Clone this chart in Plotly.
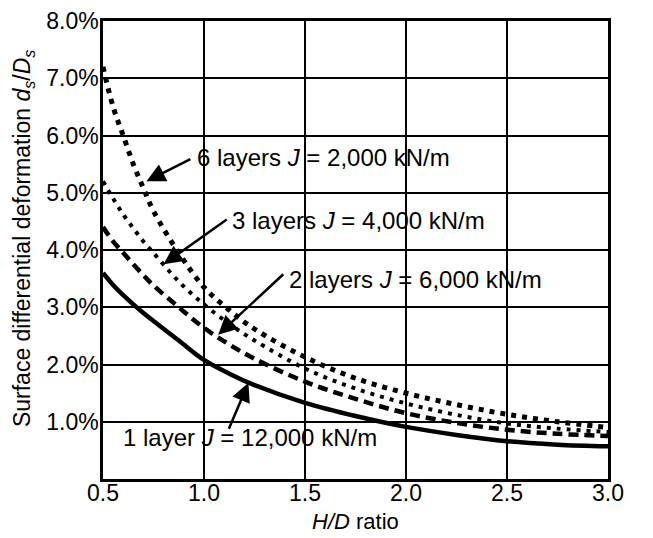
import plotly.graph_objects as go

# H/D ratio sample points
hd = [0.5, 0.55, 0.6, 0.65, 0.7, 0.75, 0.875, 1.0, 1.125, 1.25, 1.5, 1.75, 2.0, 2.25, 2.5, 2.75, 3.0]

# surface differential deformation (%)
layer6_j2000 = [7.2, 6.5, 6.0, 5.5, 5.08, 4.68, 3.95, 3.35, 2.95, 2.62, 2.13, 1.76, 1.5, 1.3, 1.13, 1.0, 0.9]
layer3_j4000 = [5.2, 4.9, 4.62, 4.38, 4.15, 3.95, 3.45, 3.05, 2.71, 2.42, 1.93, 1.58, 1.32, 1.12, 0.97, 0.88, 0.82]
layer2_j6000 = [4.4, 4.15, 3.95, 3.75, 3.56, 3.38, 3.0, 2.64, 2.35, 2.1, 1.7, 1.4, 1.15, 0.98, 0.86, 0.79, 0.75]
layer1_j12000 = [3.6, 3.39, 3.21, 3.05, 2.9, 2.76, 2.42, 2.08, 1.84, 1.64, 1.33, 1.1, 0.91, 0.77, 0.66, 0.6, 0.57]

y_tickvals = [1, 2, 3, 4, 5, 6, 7, 8]
y_ticktext = ["1.0%", "2.0%", "3.0%", "4.0%", "5.0%", "6.0%", "7.0%", "8.0%"]
x_tickvals = [0.5, 1.0, 1.5, 2.0, 2.5, 3.0]
x_ticktext = ["0.5", "1.0", "1.5", "2.0", "2.5", "3.0"]

FONT = "Liberation Sans, Arial, Helvetica, sans-serif"

fig = go.Figure()
fig.add_trace(go.Scatter(x=hd, y=layer6_j2000, mode="lines", line=dict(color="black", width=5, dash="5px,6px", shape="spline"), showlegend=False))
fig.add_trace(go.Scatter(x=hd, y=layer3_j4000, mode="lines", line=dict(color="black", width=4, dash="4px,6px", shape="spline"), showlegend=False))
fig.add_trace(go.Scatter(x=hd, y=layer2_j6000, mode="lines", line=dict(color="black", width=4.5, dash="10px,6px", shape="spline"), showlegend=False))
fig.add_trace(go.Scatter(x=hd, y=layer1_j12000, mode="lines", line=dict(color="black", width=4.5, shape="spline"), showlegend=False))

labels = [
    # text, text x, text y, arrow tail x, tail y, tip x, tip y
    ("6 layers <i>J</i> = 2,000 kN/m", 0.955, 5.62, 0.94, 5.6, 0.715, 5.2),
    ("3 layers <i>J</i> = 4,000 kN/m", 1.13, 4.52, 1.12, 4.55, 0.8, 3.75),
    ("2 layers <i>J</i> = 6,000 kN/m", 1.41, 3.48, 1.4, 3.6, 1.07, 2.52),
    ("1 layer <i>J</i> = 12,000 kN/m", 0.59, 0.72, 1.12, 0.85, 1.22, 1.68),
]
for txt, tx, ty, axx, ayy, px, py in labels:
    fig.add_annotation(x=px, y=py, ax=axx, ay=ayy, axref="x", ayref="y", xref="x", yref="y",
                       text="", showarrow=True, arrowhead=2, arrowsize=1.5, arrowwidth=2.5,
                       arrowcolor="black", standoff=0, startstandoff=0)
    fig.add_annotation(x=tx, y=ty, xref="x", yref="y", text=txt, showarrow=False,
                       xanchor="left", yanchor="middle", font=dict(family=FONT, size=24, color="black"),
                       bgcolor="rgba(255,255,255,0)")

# axis titles placed as annotations for exact positioning
fig.add_annotation(x=0, y=0.526, xref="paper", yref="paper", xanchor="center", yanchor="middle",
                   xshift=-80, textangle=-90, showarrow=False,
                   text="Surface differential deformation <i>d<sub>s</sub></i>/<i>D<sub>s</sub></i>",
                   font=dict(family=FONT, size=23, color="black"))
fig.add_annotation(x=0.5, y=0, xref="paper", yref="paper", xanchor="center", yanchor="middle",
                   yshift=-42, showarrow=False, text="<i>H/D</i> ratio",
                   font=dict(family=FONT, size=22, color="black"))

# page body has an 8px margin, so the figure is sized to fit the 653x538 window
fig.update_layout(
    width=645, height=530,
    margin=dict(l=95, r=45, t=13, b=59),
    paper_bgcolor="white", plot_bgcolor="white",
    font=dict(family=FONT, color="black"),
)
fig.update_xaxes(range=[0.5, 3.0], tickvals=x_tickvals, ticktext=x_ticktext,
                 showgrid=True, gridcolor="black", gridwidth=1.5,
                 showline=True, linecolor="black", linewidth=2.5, mirror=True,
                 ticks="", tickfont=dict(size=23, family=FONT), zeroline=False, automargin=False,
                 ticklabelstandoff=-8)
fig.update_yaxes(range=[0, 8], tickvals=y_tickvals, ticktext=y_ticktext,
                 showgrid=True, gridcolor="black", gridwidth=1.5,
                 showline=True, linecolor="black", linewidth=2.5, mirror=True,
                 ticks="", tickfont=dict(size=23, family=FONT), zeroline=False, automargin=False,
                 ticklabelstandoff=-3)

fig.write_html("out.html")
